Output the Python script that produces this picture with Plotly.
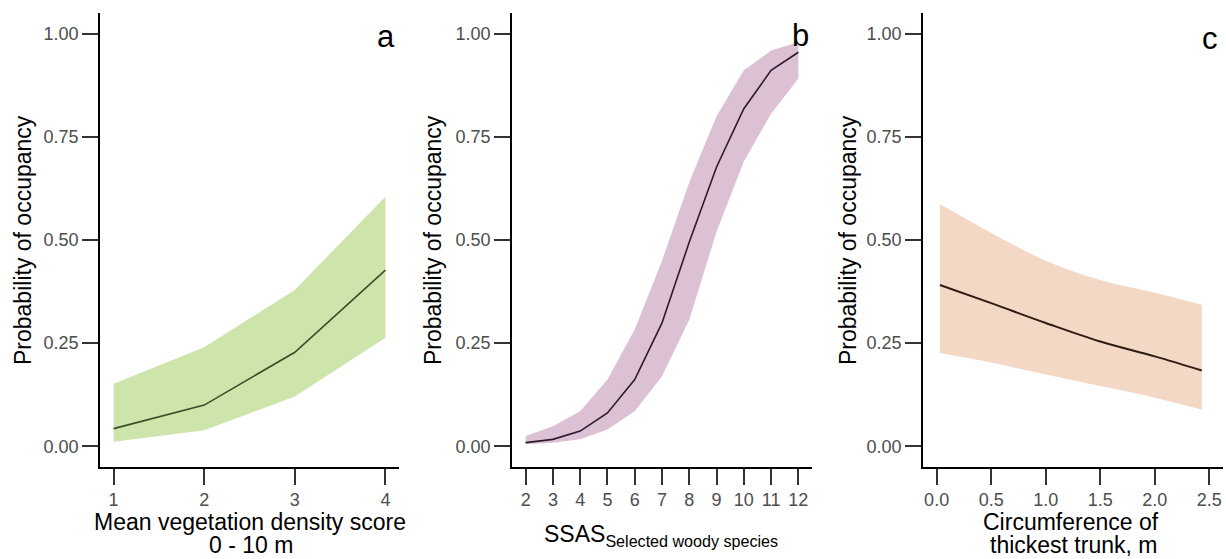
import plotly.graph_objects as go

W, H = 1226, 559

# ---------------- data ----------------
# Panel a: mean vegetation density score
a_x = [1, 2, 3, 4]
a_mean = [0.043, 0.100, 0.228, 0.427]
a_lower = [0.011, 0.039, 0.121, 0.263]
a_upper = [0.152, 0.240, 0.379, 0.605]

# Panel b: SSAS selected woody species
b_x = [2, 3, 4, 5, 6, 7, 8, 9, 10, 11, 12]
b_mean = [0.009, 0.017, 0.037, 0.081, 0.162, 0.299, 0.495, 0.677, 0.818, 0.911, 0.955]
b_lower = [0.005, 0.009, 0.017, 0.041, 0.085, 0.170, 0.307, 0.520, 0.690, 0.806, 0.891]
b_upper = [0.025, 0.049, 0.085, 0.162, 0.283, 0.450, 0.640, 0.800, 0.911, 0.959, 0.979]

# Panel c: circumference of thickest trunk
c_x = [0.03, 0.5, 1.0, 1.5, 2.0, 2.43]
c_mean = [0.391, 0.347, 0.299, 0.254, 0.218, 0.184]
c_lower = [0.226, 0.203, 0.174, 0.146, 0.118, 0.089]
c_upper = [0.587, 0.517, 0.450, 0.403, 0.372, 0.343]

y_ticks = [0.0, 0.25, 0.50, 0.75, 1.00]
a_ticks = [1, 2, 3, 4]
b_ticks = list(range(2, 13))
c_ticks = [0.0, 0.5, 1.0, 1.5, 2.0, 2.5]

panel_letters = ["a", "b", "c"]
y_title = "Probability of occupancy"
x_titles = [
    ["Mean vegetation density score", "0 - 10 m"],
    ["SSAS<sub>Selected woody species</sub>"],
    ["Circumference of", "thickest trunk, m"],
]

# ---------------- styling ----------------
band_colors = ["#cde4aa", "#dcc1d5", "#f2d8c5"]
line_colors = ["#3a4d28", "#2e1a2e", "#2e1c14"]
line_widths = [1.6, 1.6, 2.0]
shapes = ["linear", "linear", "spline"]

FONT = "Liberation Sans, Arial, sans-serif"

def px_x(p):
    return p / W

def px_y(p):
    return 1 - p / H

# pixel domains for the three panels
x_domains_px = [(100, 399), (512, 812), (923, 1223)]
y_domain_px = (13, 467)  # top, bottom
x_ranges = [[0.85, 4.15], [1.5, 12.5], [-0.125, 2.625]]
y_range = [-0.05, 1.05]

fig = go.Figure()

datasets = [
    (a_x, a_mean, a_lower, a_upper),
    (b_x, b_mean, b_lower, b_upper),
    (c_x, c_mean, c_lower, c_upper),
]

for i, (xs, m, lo, up) in enumerate(datasets):
    xa = "x" if i == 0 else f"x{i+1}"
    ya = "y" if i == 0 else f"y{i+1}"
    fig.add_trace(go.Scatter(x=xs, y=lo, mode="lines", line=dict(width=0, shape=shapes[i]),
                             xaxis=xa, yaxis=ya, showlegend=False, hoverinfo="skip"))
    fig.add_trace(go.Scatter(x=xs, y=up, mode="lines", line=dict(width=0, shape=shapes[i]),
                             fill="tonexty", fillcolor=band_colors[i],
                             xaxis=xa, yaxis=ya, showlegend=False, hoverinfo="skip"))
    fig.add_trace(go.Scatter(x=xs, y=m, mode="lines",
                             line=dict(color=line_colors[i], width=line_widths[i], shape=shapes[i]),
                             xaxis=xa, yaxis=ya, showlegend=False))

axis_common = dict(
    showline=True, linecolor="black", linewidth=1.6,
    ticks="outside", ticklen=16, tickwidth=1.6, tickcolor="#333333",
    showgrid=False, zeroline=False,
    tickfont=dict(family=FONT, size=18, color="#4d4d4d"),
)

ydom = [px_y(y_domain_px[1]), px_y(y_domain_px[0])]
tickvals_x = [a_ticks, b_ticks, c_ticks]
tickfmt_x = ["d", "d", ".1f"]

layout = dict(
    width=W, height=H,
    margin=dict(l=0, r=0, t=0, b=0),
    paper_bgcolor="white", plot_bgcolor="white",
    showlegend=False,
)
for i in range(3):
    xk = "xaxis" if i == 0 else f"xaxis{i+1}"
    yk = "yaxis" if i == 0 else f"yaxis{i+1}"
    anchor_y = "y" if i == 0 else f"y{i+1}"
    anchor_x = "x" if i == 0 else f"x{i+1}"
    layout[xk] = dict(axis_common, domain=[px_x(x_domains_px[i][0]), px_x(x_domains_px[i][1])],
                      range=x_ranges[i], anchor=anchor_y,
                      tickmode="array", tickvals=tickvals_x[i],
                      ticktext=[format(v, tickfmt_x[i]) for v in tickvals_x[i]])
    layout[yk] = dict(axis_common, domain=ydom, range=y_range, anchor=anchor_x,
                      tickmode="array", tickvals=y_ticks,
                      ticktext=[f"{v:.2f}" for v in y_ticks])

fig.update_layout(**layout)

annotations = []
# y titles
for xc in [23, 433, 848]:
    annotations.append(dict(text=y_title, x=px_x(xc), y=px_y(240), xref="paper", yref="paper",
                            textangle=-90, showarrow=False, xanchor="center", yanchor="middle",
                            font=dict(family=FONT, size=23, color="black")))
# panel letters
for letter, (xc, yc) in zip(panel_letters, [(386, 37), (800, 36), (1210, 38)]):
    annotations.append(dict(text=letter, x=px_x(xc), y=px_y(yc), xref="paper", yref="paper",
                            showarrow=False, xanchor="center", yanchor="middle",
                            font=dict(family=FONT, size=31, color="black")))
# x titles
x_title_pos = [
    [(250, 522), (251, 545)],
    [(661, 535)],
    [(1071, 522), (1073, 545)],
]
for lines, poss in zip(x_titles, x_title_pos):
    for t, (xc, yc) in zip(lines, poss):
        annotations.append(dict(text=t, x=px_x(xc), y=px_y(yc), xref="paper", yref="paper",
                                showarrow=False, xanchor="center", yanchor="middle",
                                font=dict(family=FONT, size=23, color="black")))

fig.update_layout(annotations=annotations)

fig.write_html(
    "out.html",
    config={"displayModeBar": False},
    post_script="document.body.style.margin='0';document.body.style.overflow='hidden';",
)
